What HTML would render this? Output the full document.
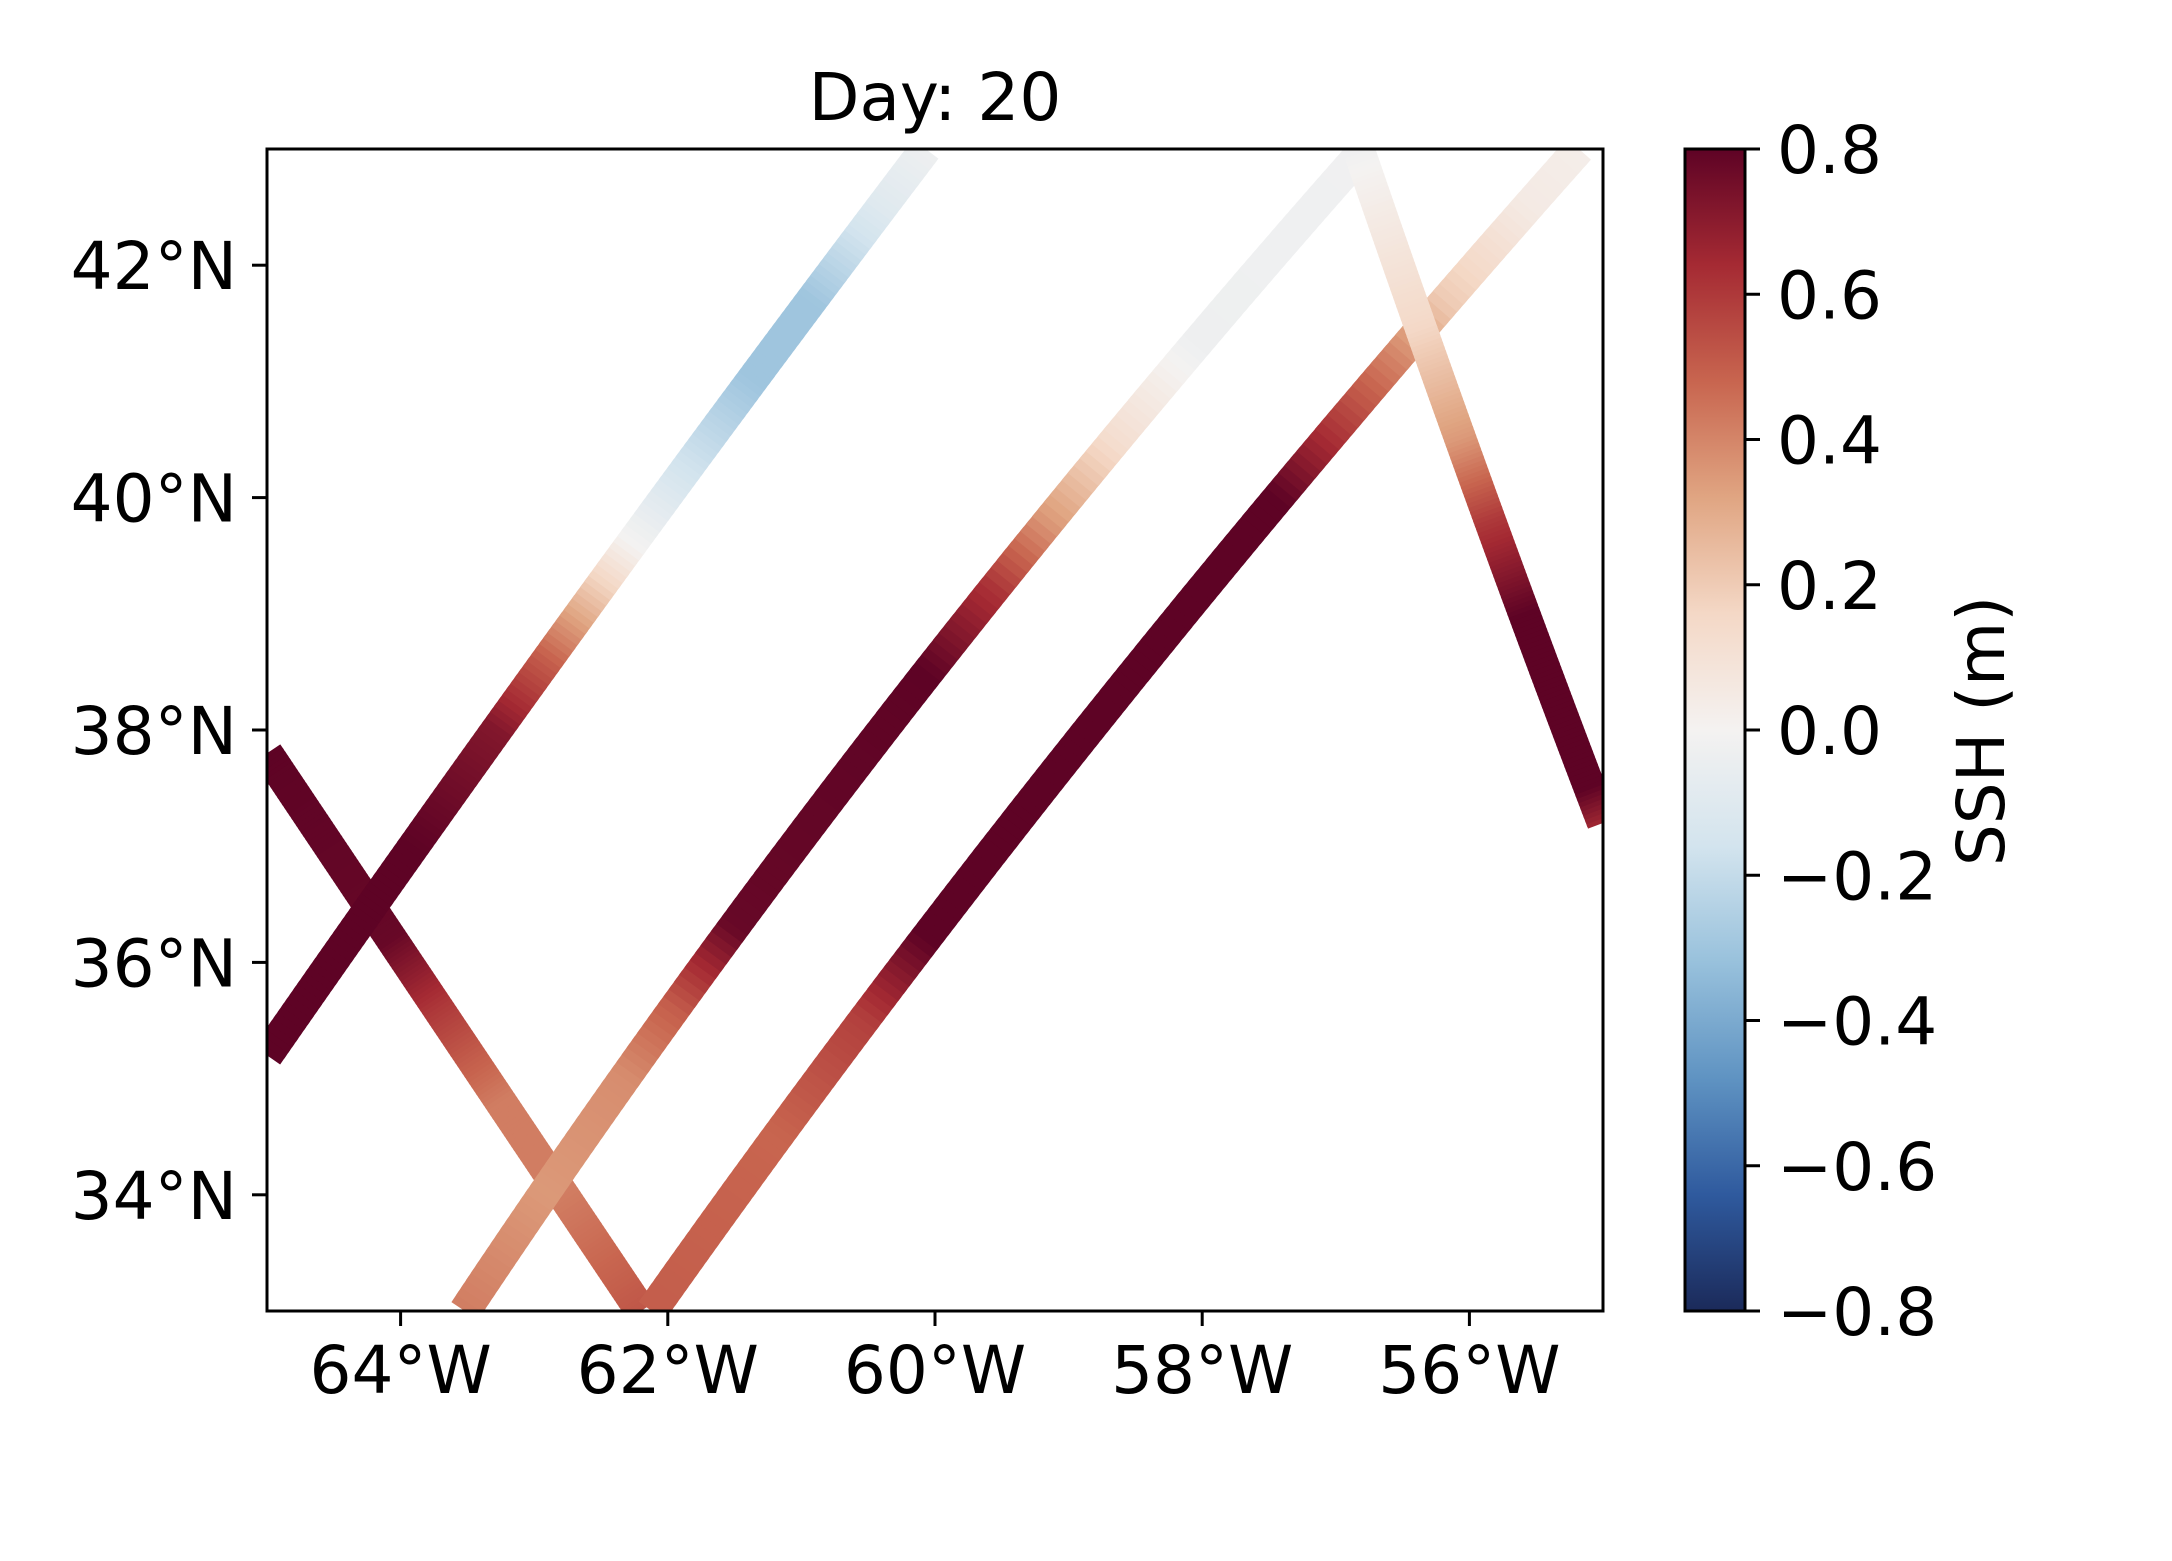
<!DOCTYPE html>
<html><head><meta charset="utf-8"><style>
html,body{margin:0;padding:0;background:#fff;}
svg{display:block;font-family:"DejaVu Sans","Liberation Sans",sans-serif;}
</style></head><body>
<svg id="chart" width="2172" height="1561" viewBox="0 0 2172 1561">
<defs><clipPath id="plotclip"><rect x="267" y="149" width="1336" height="1162"/></clipPath>
<linearGradient id="cbgrad" x1="0" y1="1" x2="0" y2="0"></linearGradient></defs>
<rect x="0" y="0" width="2172" height="1561" fill="#fff"/>
<text x="935" y="120" font-size="66" text-anchor="middle">Day: 20</text>
<g id="tracks" clip-path="url(#plotclip)"></g>
<rect x="267" y="149" width="1336" height="1162" fill="none" stroke="#000" stroke-width="3"/>
<g id="axes"></g>
<rect id="cbar" x="1685" y="149" width="60" height="1162" fill="url(#cbgrad)" stroke="#000" stroke-width="3"/>
<text x="0" y="0" font-size="66" text-anchor="middle" transform="translate(2004,731) rotate(-90)">SSH (m)</text>
</svg>
<script>
const lonTicks = [-64, -62, -60, -58, -56];
const lonTickLabels = ["64°W", "62°W", "60°W", "58°W", "56°W"];
const latTicks = [42, 40, 38, 36, 34];
const latTickLabels = ["42°N", "40°N", "38°N", "36°N", "34°N"];
const cbTicks = [0.8, 0.6, 0.4, 0.2, 0.0, -0.2, -0.4, -0.6, -0.8];
const cbTickLabels = ["0.8", "0.6", "0.4", "0.2", "0.0", "−0.2", "−0.4", "−0.6", "−0.8"];
const trackNames = ["track-a", "track-b", "track-c", "track-d", "track-e"];
const trackStart = [[-65, 35.2], [-63.52, 33], [-62.12, 33], [-65, 37.8], [-56.83, 43]];
const trackMid = [[-62.59, 39.1], [-60.39, 38.0], [-58.85, 38.0], [-64.26, 36.53], [-55.95, 40.13]];
const trackEnd = [[-60.07, 43], [-56.78, 43], [-55.18, 43], [-62.2, 33], [-55, 37.2]];
const trackStopLats = [
  [35.2, 37.0, 38.0, 38.6, 39.1, 39.6, 40.2, 41.0, 41.7, 42.5, 43],
  [33, 34, 35, 35.6, 36.3, 38.5, 39.2, 39.8, 40.5, 41.3, 43],
  [33, 34.5, 35.5, 36.2, 40.0, 40.6, 41.2, 41.7, 42.5, 43],
  [37.8, 36.2, 35.6, 34.8, 34.0, 33],
  [43, 41.5, 40.5, 39.8, 39.0, 37.5, 37.2]
];
const trackStopVals = [
  [0.8, 0.8, 0.72, 0.5, 0.25, 0.0, -0.15, -0.3, -0.3, -0.1, -0.03],
  [0.42, 0.35, 0.38, 0.5, 0.78, 0.8, 0.62, 0.35, 0.12, -0.03, -0.02],
  [0.5, 0.48, 0.58, 0.8, 0.8, 0.6, 0.4, 0.2, 0.05, 0.03],
  [0.8, 0.78, 0.6, 0.42, 0.42, 0.52],
  [-0.02, 0.15, 0.35, 0.6, 0.8, 0.8, 0.65]
];
const cmapHex = ["#1b2a5a","#2f5a9e","#5f93c2","#98c1dc","#d3e4ee","#f4f2f1","#f4d8c6","#e0a582","#c8654f","#a52a33","#5e0325"];

const PX0 = 267, PX1 = 1603, PY0 = 149, PY1 = 1311;
const LON0 = -65, LON1 = -55, LAT0 = 33, LAT1 = 43, VMIN = -0.8, VMAX = 0.8;
const xScale = lon => PX0 + (lon - LON0) / (LON1 - LON0) * (PX1 - PX0);
const yScale = lat => PY1 - (lat - LAT0) / (LAT1 - LAT0) * (PY1 - PY0);
const cbScale = v => PY1 - (v - VMIN) / (VMAX - VMIN) * (PY1 - PY0);
const NS = "http://www.w3.org/2000/svg";
function hex2rgb(h){return [1,3,5].map(i=>parseInt(h.substr(i,2),16));}
const cmapRGB = cmapHex.map(hex2rgb);
function cmap(v){
  let t = (v - VMIN) / (VMAX - VMIN); t = Math.max(0, Math.min(1, t));
  const p = t * (cmapRGB.length - 1), i = Math.min(Math.floor(p), cmapRGB.length - 2), f = p - i;
  const c = cmapRGB[i].map((a, k) => Math.round(a + (cmapRGB[i+1][k] - a) * f));
  return `rgb(${c[0]},${c[1]},${c[2]})`;
}
function interpVal(lat, lats, vals){
  const asc = lats[lats.length-1] > lats[0];
  for (let i = 0; i < lats.length - 1; i++){
    const a = lats[i], b = lats[i+1];
    if ((asc && lat >= a && lat <= b) || (!asc && lat <= a && lat >= b)){
      const f = (lat - a) / (b - a); return vals[i] + (vals[i+1] - vals[i]) * f;
    }
  }
  return (asc ? (lat < lats[0]) : (lat > lats[0])) ? vals[0] : vals[vals.length-1];
}
// lon as quadratic (Lagrange) function of lat through start, mid, end
function lonAt(ti, lat){
  const [x0,y0]=trackStart[ti],[x1,y1]=trackMid[ti],[x2,y2]=trackEnd[ti];
  return x0*(lat-y1)*(lat-y2)/((y0-y1)*(y0-y2)) + x1*(lat-y0)*(lat-y2)/((y1-y0)*(y1-y2)) + x2*(lat-y0)*(lat-y1)/((y2-y0)*(y2-y1));
}
const tg = document.getElementById('tracks');
const drawOrder = [3, 0, 1, 2, 4];
drawOrder.forEach(ti => {
  const g = document.createElementNS(NS, 'g');
  
  
  const la0 = trackStart[ti][1], la1 = trackEnd[ti][1];
  const N = 160;
  for (let i = 0; i < N; i++){
    const f0 = i / N, f1 = Math.min(1, (i + 1.6) / N);
    const lat0 = la0 + (la1 - la0) * f0, lat1 = la0 + (la1 - la0) * f1;
    const lat = la0 + (la1 - la0) * (i + 0.5) / N;
    const v = interpVal(lat, trackStopLats[ti], trackStopVals[ti]);
    const ln = document.createElementNS(NS, 'line');
    ln.setAttribute('x1', xScale(lonAt(ti, lat0)));
    ln.setAttribute('y1', yScale(lat0));
    ln.setAttribute('x2', xScale(lonAt(ti, lat1)));
    ln.setAttribute('y2', yScale(lat1));
    ln.setAttribute('stroke', cmap(v));
    ln.setAttribute('stroke-width', '32');
    
    
    g.appendChild(ln);
  }
  tg.appendChild(g);
});
const grad = document.getElementById('cbgrad');
cmapHex.forEach((h, i) => {
  const s = document.createElementNS(NS, 'stop');
  s.setAttribute('offset', (i / (cmapHex.length - 1)).toString());
  s.setAttribute('stop-color', h);
  grad.appendChild(s);
});
const ax = document.getElementById('axes');
function mk(tag, attrs, text){
  const e = document.createElementNS(NS, tag);
  for (const k in attrs) e.setAttribute(k, attrs[k]);
  if (text !== undefined) e.textContent = text;
  ax.appendChild(e); return e;
}
lonTicks.forEach((lon, i) => {
  const x = xScale(lon);
  const t = mk('line', {x1:x, y1:PY1, x2:x, y2:PY1+15, stroke:'#000', 'stroke-width':3});
  
  
  const l = mk('text', {x:x, y:1393, 'font-size':66, 'text-anchor':'middle'}, lonTickLabels[i]);
  
  
});
latTicks.forEach((lat, i) => {
  const y = yScale(lat);
  const t = mk('line', {x1:PX0-15, y1:y, x2:PX0, y2:y, stroke:'#000', 'stroke-width':3});
  
  
  const l = mk('text', {x:237, y:y+24, 'font-size':66, 'text-anchor':'end'}, latTickLabels[i]);
  
  
});
cbTicks.forEach((v, i) => {
  const y = cbScale(v);
  const t = mk('line', {x1:1745, y1:y, x2:1760, y2:y, stroke:'#000', 'stroke-width':3});
  
  
  const l = mk('text', {x:1777, y:y+24, 'font-size':66, 'text-anchor':'start'}, cbTickLabels[i]);
  
  
});
</script>
</body></html>
